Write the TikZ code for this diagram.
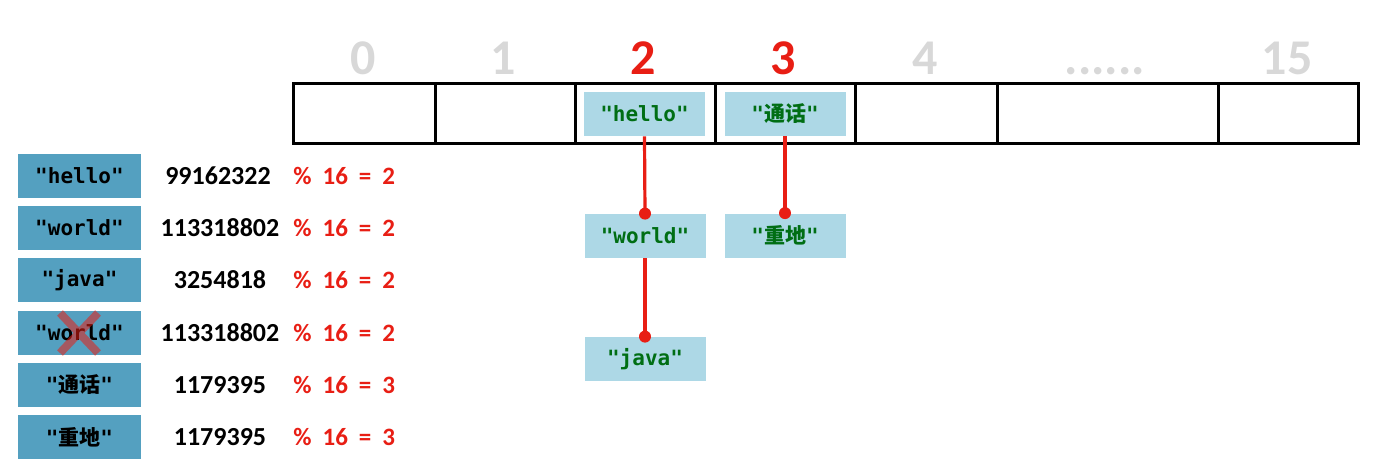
\documentclass[tikz,border=0pt]{standalone}
\usepackage{fontspec}
\setmainfont{Carlito}
\setmonofont{DejaVu Sans Mono}
\newfontfamily\cjk{Noto Sans CJK SC}
\usetikzlibrary{positioning}
\definecolor{hashkey}{RGB}{84,160,192}
\definecolor{hashentry}{RGB}{173,216,230}
\definecolor{hashgreen}{RGB}{0,110,20}
\definecolor{hashred}{RGB}{232,30,20}
\definecolor{hashgray}{RGB}{216,216,216}
\newcommand{\modsp}{\hspace{5.5pt}}
\tikzset{
  hashcell/.style={draw=black, line width=1.5pt, minimum height=30pt, inner sep=0pt},
  hashidx/.style={font=\bfseries\fontsize{25}{25}\selectfont, text=hashgray},
  hashkeybox/.style={fill=hashkey, minimum width=61.5pt, minimum height=22pt, inner sep=0pt,
    font=\ttfamily\bfseries\fontsize{10.5}{12}\selectfont},
  hashentrybox/.style={fill=hashentry, minimum width=60.5pt, minimum height=22pt, inner sep=0pt,
    text=hashgreen, font=\ttfamily\bfseries\fontsize{10.5}{12}\selectfont},
  hashcode/.style={font=\bfseries\fontsize{13}{14}\selectfont},
  hashmod/.style={anchor=west, inner sep=0pt, text=hashred, font=\bfseries\fontsize{12.5}{14}\selectfont},
  hashlink/.style={draw=hashred, line width=1.6pt},
  hashdot/.style={fill=hashred},
}

\begin{document}
\begin{tikzpicture}[x=0.5pt, y=-0.5pt]
  \useasboundingbox (0,0) rectangle (1378,466);
  \node[hashcell, minimum width=71pt] (c0) at (364,113) {};
  \node[hashcell, minimum width=70pt] (c1) at (505,113) {};
  \node[hashcell, minimum width=70pt] (c2) at (645,113) {};
  \node[hashcell, minimum width=70pt] (c3) at (785,113) {};
  \node[hashcell, minimum width=71pt] (c4) at (926,113) {};
  \node[hashcell, minimum width=110.5pt] (c5) at (1107.5,113) {};
  \node[hashcell, minimum width=70pt] (c6) at (1288,113) {};
  \node[hashidx] (i0) at (363,58) {0};
  \node[hashidx] (i1) at (503,58) {1};
  \node[hashidx, text=hashred] (i2) at (643,58) {2};
  \node[hashidx, text=hashred] (i3) at (783,58) {3};
  \node[hashidx] (i4) at (925,58) {4};
  \node[hashidx, anchor=base] (i5) at (1105,74) {......};
  \node[hashidx] (i6) at (1287,58) {15};
  \node[hashentrybox] (e1) at (644.5,114) {"hello"};
  \node[hashentrybox] (e2) at (785,114) {"{\cjk 通话}"};
  \node[hashentrybox] (e3) at (645,236) {"world"};
  \node[hashentrybox] (e4) at (645,359) {"java"};
  \node[hashentrybox] (e5) at (785,235.5) {"{\cjk 重地}"};
  \draw[hashlink] (e1.south) -- (e3.north);
  \draw[hashlink] (e3.south) -- (e4.north);
  \draw[hashlink] (e2.south) -- (e5.north);
  \fill[hashdot] (e3.north) circle (6);
  \fill[hashdot] (e4.north) circle (6);
  \fill[hashdot] (e5.north) circle (6);
  \node[hashkeybox] (k1) at (79.5,176) {"hello"};
  \node[hashkeybox] (k2) at (79.5,228) {"world"};
  \node[hashkeybox] (k3) at (79.5,280) {"java"};
  \node[hashkeybox] (k4) at (79.5,332.5) {"world"};
  \node[hashkeybox] (k5) at (79.5,385) {"{\cjk 通话}"};
  \node[hashkeybox] (k6) at (79.5,437) {"{\cjk 重地}"};
  \draw[hashred, opacity=0.55, line width=4pt] (60,313) -- (98,353) (98,313) -- (60,353);
  \node[hashcode] (h1) at (218,176) {99162322};
  \node[hashcode] (h2) at (220,228) {113318802};
  \node[hashcode] (h3) at (220,280) {3254818};
  \node[hashcode] (h4) at (220,332.5) {113318802};
  \node[hashcode] (h5) at (220,385) {1179395};
  \node[hashcode] (h6) at (220,437) {1179395};
  \node[hashmod] (m1) at (293,176) {\%\modsp 16\modsp=\modsp 2};
  \node[hashmod] (m2) at (293,228) {\%\modsp 16\modsp=\modsp 2};
  \node[hashmod] (m3) at (293,280) {\%\modsp 16\modsp=\modsp 2};
  \node[hashmod] (m4) at (293,332.5) {\%\modsp 16\modsp=\modsp 2};
  \node[hashmod] (m5) at (293,385) {\%\modsp 16\modsp=\modsp 3};
  \node[hashmod] (m6) at (293,437) {\%\modsp 16\modsp=\modsp 3};
\end{tikzpicture}
\end{document}
